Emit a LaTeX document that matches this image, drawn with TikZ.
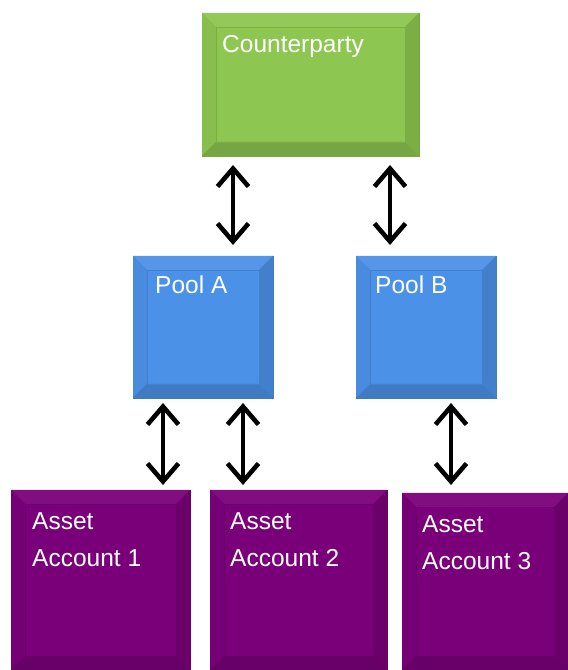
\documentclass[tikz,border=0pt]{standalone}
\usepackage{fontspec}
\setmainfont{Liberation Sans}
\usetikzlibrary{positioning,arrows.meta}

\definecolor{cpgreen}{RGB}{141,198,80}
\definecolor{poolblue}{RGB}{76,145,232}
\definecolor{acctpurple}{RGB}{122,0,122}

\tikzset{
  box/.style={draw=#1!85!black, line width=0.8pt, fill=#1, inner sep=0pt, outer sep=0pt},
  lbl/.style={text=white, inner sep=0pt, anchor=north west, align=left,
    font=\fontsize{24.5}{37}\selectfont},
  link/.style={{Straight Barb[length=18pt,width=31pt,line width=4.6pt]}-{Straight Barb[length=18pt,width=31pt,line width=4.6pt]},
    line width=3.5pt},
}

% bevelled frame round a box
\newcommand{\bevelbox}[2]{%
  \fill[#2!95!white] (#1.north west) -- (#1.north east) -- ([shift={(-14,-14)}]#1.north east) -- ([shift={(14,-14)}]#1.north west) -- cycle;
  \fill[#2!96!black] (#1.north west) -- (#1.south west) -- ([shift={(14,14)}]#1.south west) -- ([shift={(14,-14)}]#1.north west) -- cycle;
  \fill[#2!88!black] (#1.north east) -- (#1.south east) -- ([shift={(-14,14)}]#1.south east) -- ([shift={(-14,-14)}]#1.north east) -- cycle;
  \fill[#2!84!black] (#1.south west) -- (#1.south east) -- ([shift={(-14,14)}]#1.south east) -- ([shift={(14,14)}]#1.south west) -- cycle;
  \draw[#2!88!black, line width=0.5pt] ([shift={(14,14)}]#1.south west) rectangle ([shift={(-14,-14)}]#1.north east);
}

\begin{document}
\begin{tikzpicture}[x=1pt,y=1pt]
\useasboundingbox[fill=white] (0,0) rectangle (568,670);

% boxes
\node[box=cpgreen, minimum width=217pt, minimum height=143pt] (cp) at (310.5,585.5) {};
\node[box=poolblue, minimum width=140pt, minimum height=142pt] (pa) at (203,343) {};
\node[box=poolblue, minimum width=140pt, minimum height=142pt] (pb) at (426,343) {};
\node[box=acctpurple, minimum width=179pt, minimum height=180pt] (acct1) at (100.5,90) {};
\node[box=acctpurple, minimum width=177pt, minimum height=180pt] (acct2) at (298.5,90) {};
\node[box=acctpurple, minimum width=166pt, minimum height=177pt] (acct3) at (485,88.5) {};

\bevelbox{cp}{cpgreen}
\bevelbox{pa}{poolblue}
\bevelbox{pb}{poolblue}
\bevelbox{acct1}{acctpurple}
\bevelbox{acct2}{acctpurple}
\bevelbox{acct3}{acctpurple}

% labels
\node[lbl, below right=22pt and 20pt of cp.north west] (cpname) {Counterparty};
\node[lbl, below right=20pt and 22pt of pa.north west] (paname) {Pool A};
\node[lbl, below right=20pt and 19pt of pb.north west] (pbname) {Pool B};
\node[lbl, below right=22pt and 21pt of acct1.north west] (acct1name) {Asset\\Account 1};
\node[lbl, below right=22pt and 20pt of acct2.north west] (acct2name) {Asset\\Account 2};
\node[lbl, below right=22pt and 20pt of acct3.north west] (acct3name) {Asset\\Account 3};

% links
\draw[link, shorten <=11pt, shorten >=9pt] ([xshift=30pt]pa.north) -- ([xshift=30pt]pa.north |- cp.south);
\draw[link, shorten <=11pt, shorten >=9pt] ([xshift=-36pt]pb.north) -- ([xshift=-36pt]pb.north |- cp.south);
\draw[link, shorten <=5pt, shorten >=5pt] ([xshift=-40pt]pa.south) -- ([xshift=-40pt]pa.south |- acct1.north);
\draw[link, shorten <=5pt, shorten >=5pt] ([xshift=40pt]pa.south) -- ([xshift=40pt]pa.south |- acct2.north);
\draw[link, shorten <=5pt, shorten >=8pt] ([xshift=25pt]pb.south) -- ([xshift=25pt]pb.south |- acct3.north);
\end{tikzpicture}
\end{document}
